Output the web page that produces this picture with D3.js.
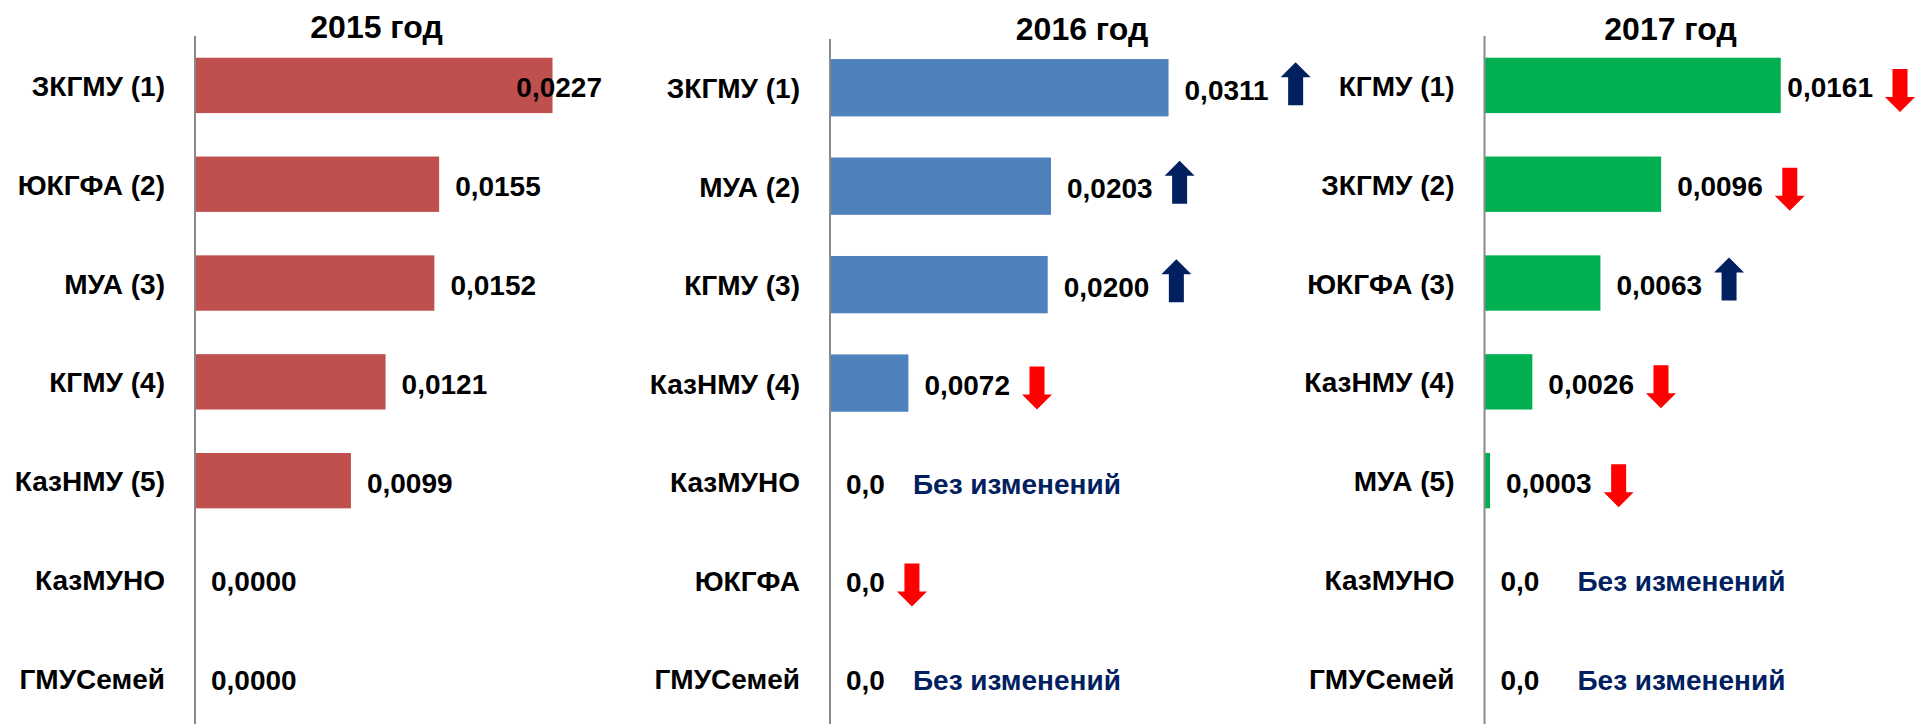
<!DOCTYPE html>
<html>
<head>
<meta charset="utf-8">
<script src="https://cdn.jsdelivr.net/npm/d3@7"></script>
<style>
  html, body { margin: 0; padding: 0; background: #ffffff; }
  svg { display: block; }
  text { font-family: "Liberation Sans", Arial, sans-serif; font-weight: bold; }
</style>
</head>
<body>
<svg id="chart" width="1915" height="724"></svg>
<script>
// ---------- DATA ----------
const titles = ["2015 год", "2016 год", "2017 год"];

const categories2015 = ["ЗКГМУ (1)", "ЮКГФА (2)", "МУА (3)", "КГМУ (4)", "КазНМУ (5)", "КазМУНО", "ГМУСемей"];
const values2015     = [0.0227, 0.0155, 0.0152, 0.0121, 0.0099, 0, 0];
const labels2015     = ["0,0227", "0,0155", "0,0152", "0,0121", "0,0099", "0,0000", "0,0000"];
const changes2015    = ["", "", "", "", "", "", ""];

const categories2016 = ["ЗКГМУ (1)", "МУА (2)", "КГМУ (3)", "КазНМУ (4)", "КазМУНО", "ЮКГФА", "ГМУСемей"];
const values2016     = [0.0311, 0.0203, 0.0200, 0.0072, 0, 0, 0];
const labels2016     = ["0,0311", "0,0203", "0,0200", "0,0072", "0,0", "0,0", "0,0"];
const changes2016    = ["up", "up", "up", "down", "same", "down", "same"];

const categories2017 = ["КГМУ (1)", "ЗКГМУ (2)", "ЮКГФА (3)", "КазНМУ (4)", "МУА (5)", "КазМУНО", "ГМУСемей"];
const values2017     = [0.0161, 0.0096, 0.0063, 0.0026, 0.0003, 0, 0];
const labels2017     = ["0,0161", "0,0096", "0,0063", "0,0026", "0,0003", "0,0", "0,0"];
const changes2017    = ["down", "down", "up", "down", "down", "same", "same"];

const noChangeText = "Без изменений";

// ---------- LAYOUT (positions / styles only) ----------
const panels = [
  { title: titles[0], cats: categories2015, vals: values2015, labs: labels2015, chg: changes2015,
    color: "#C0504D", axisX: 195, axisTop: 36, yRange: [36, 727.7], padIn: 0.44, padOut: 0.22,
    xMax: 0.025, xWidth: 393.75, labelLimit: 602, titleX: 376.5, titleY: 37.5, noteGap: 30 },
  { title: titles[1], cats: categories2016, vals: values2016, labs: labels2016, chg: changes2016,
    color: "#4F81BD", axisX: 830, axisTop: 39, yRange: [38.5, 727.7], padIn: 0.418, padOut: 0.209,
    xMax: 0.035, xWidth: 381, labelLimit: 1275, titleX: 1082, titleY: 40, noteGap: 28 },
  { title: titles[2], cats: categories2017, vals: values2017, labs: labels2017, chg: changes2017,
    color: "#00B050", axisX: 1484.5, axisTop: 36, yRange: [36, 727.7], padIn: 0.44, padOut: 0.22,
    xMax: 0.02, xWidth: 368, labelLimit: 1873, titleX: 1670.5, titleY: 40, noteGap: 38 }
];

const svg = d3.select("#chart");
const NAVY = "#002060", RED = "#FF0000";
const AW = 30, AH = 43, SW = 15, HH = 15;   // arrow geometry

function arrowPath(cx, cy, dir) {
  const top = cy - AH / 2, bot = cy + AH / 2;
  if (dir === "up") {
    return `M${cx},${top} L${cx + AW / 2},${top + HH} L${cx + SW / 2},${top + HH} L${cx + SW / 2},${bot}
            L${cx - SW / 2},${bot} L${cx - SW / 2},${top + HH} L${cx - AW / 2},${top + HH} Z`;
  }
  return `M${cx},${bot} L${cx + AW / 2},${bot - HH} L${cx + SW / 2},${bot - HH} L${cx + SW / 2},${top}
          L${cx - SW / 2},${top} L${cx - SW / 2},${bot - HH} L${cx - AW / 2},${bot - HH} Z`;
}

panels.forEach(p => {
  const g = svg.append("g");
  const y = d3.scaleBand().domain(p.cats).range(p.yRange).paddingInner(p.padIn).paddingOuter(p.padOut);
  const x = d3.scaleLinear().domain([0, p.xMax]).range([p.axisX, p.axisX + p.xWidth]);

  // title
  g.append("text").attr("x", p.titleX).attr("y", p.titleY).attr("text-anchor", "middle")
    .attr("font-size", 32).attr("fill", "#000").text(p.title);

  // bars
  g.selectAll("rect.bar").data(p.vals).join("rect").attr("class", "bar")
    .attr("x", x(0))
    .attr("y", (d, i) => y(p.cats[i]))
    .attr("width", d => Math.max(0, x(d) - x(0)))
    .attr("height", y.bandwidth())
    .attr("fill", p.color);

  // axis (category axis on the left, line only)
  const axis = d3.axisLeft(y).tickSize(0).tickPadding(30);
  const ag = g.append("g").attr("transform", `translate(${p.axisX},0)`).call(axis);
  ag.select(".domain").remove();
  ag.selectAll("text").attr("font-size", 28).attr("fill", "#000")
    .attr("font-family", '"Liberation Sans", Arial, sans-serif').attr("font-weight", "bold")
    .attr("dy", null).attr("dominant-baseline", "central").attr("y", 1);
  g.append("line").attr("x1", p.axisX).attr("x2", p.axisX).attr("y1", p.axisTop).attr("y2", 724)
    .attr("stroke", "#8a8a8a").attr("stroke-width", 2);

  // value labels, arrows, notes
  p.vals.forEach((v, i) => {
    const cy = y(p.cats[i]) + y.bandwidth() / 2;
    const t = g.append("text").attr("y", cy + 12).attr("font-size", 28).attr("fill", "#000").text(p.labs[i]);
    const w = t.node().getComputedTextLength();
    let lx = x(v) + 16;
    if (lx + w > p.labelLimit) lx = p.labelLimit - w;
    t.attr("x", lx);
    const end = lx + w;
    const c = p.chg[i];
    if (c === "up") {
      g.append("path").attr("d", arrowPath(end + 12 + AW / 2, cy - 4, "up")).attr("fill", NAVY);
    } else if (c === "down") {
      g.append("path").attr("d", arrowPath(end + 12 + AW / 2, cy + 5, "down")).attr("fill", RED);
    } else if (c === "same") {
      g.append("text").attr("x", end + p.noteGap).attr("y", cy + 12).attr("font-size", 28)
        .attr("fill", NAVY).text(noChangeText);
    }
  });
});
</script>
</body>
</html>
